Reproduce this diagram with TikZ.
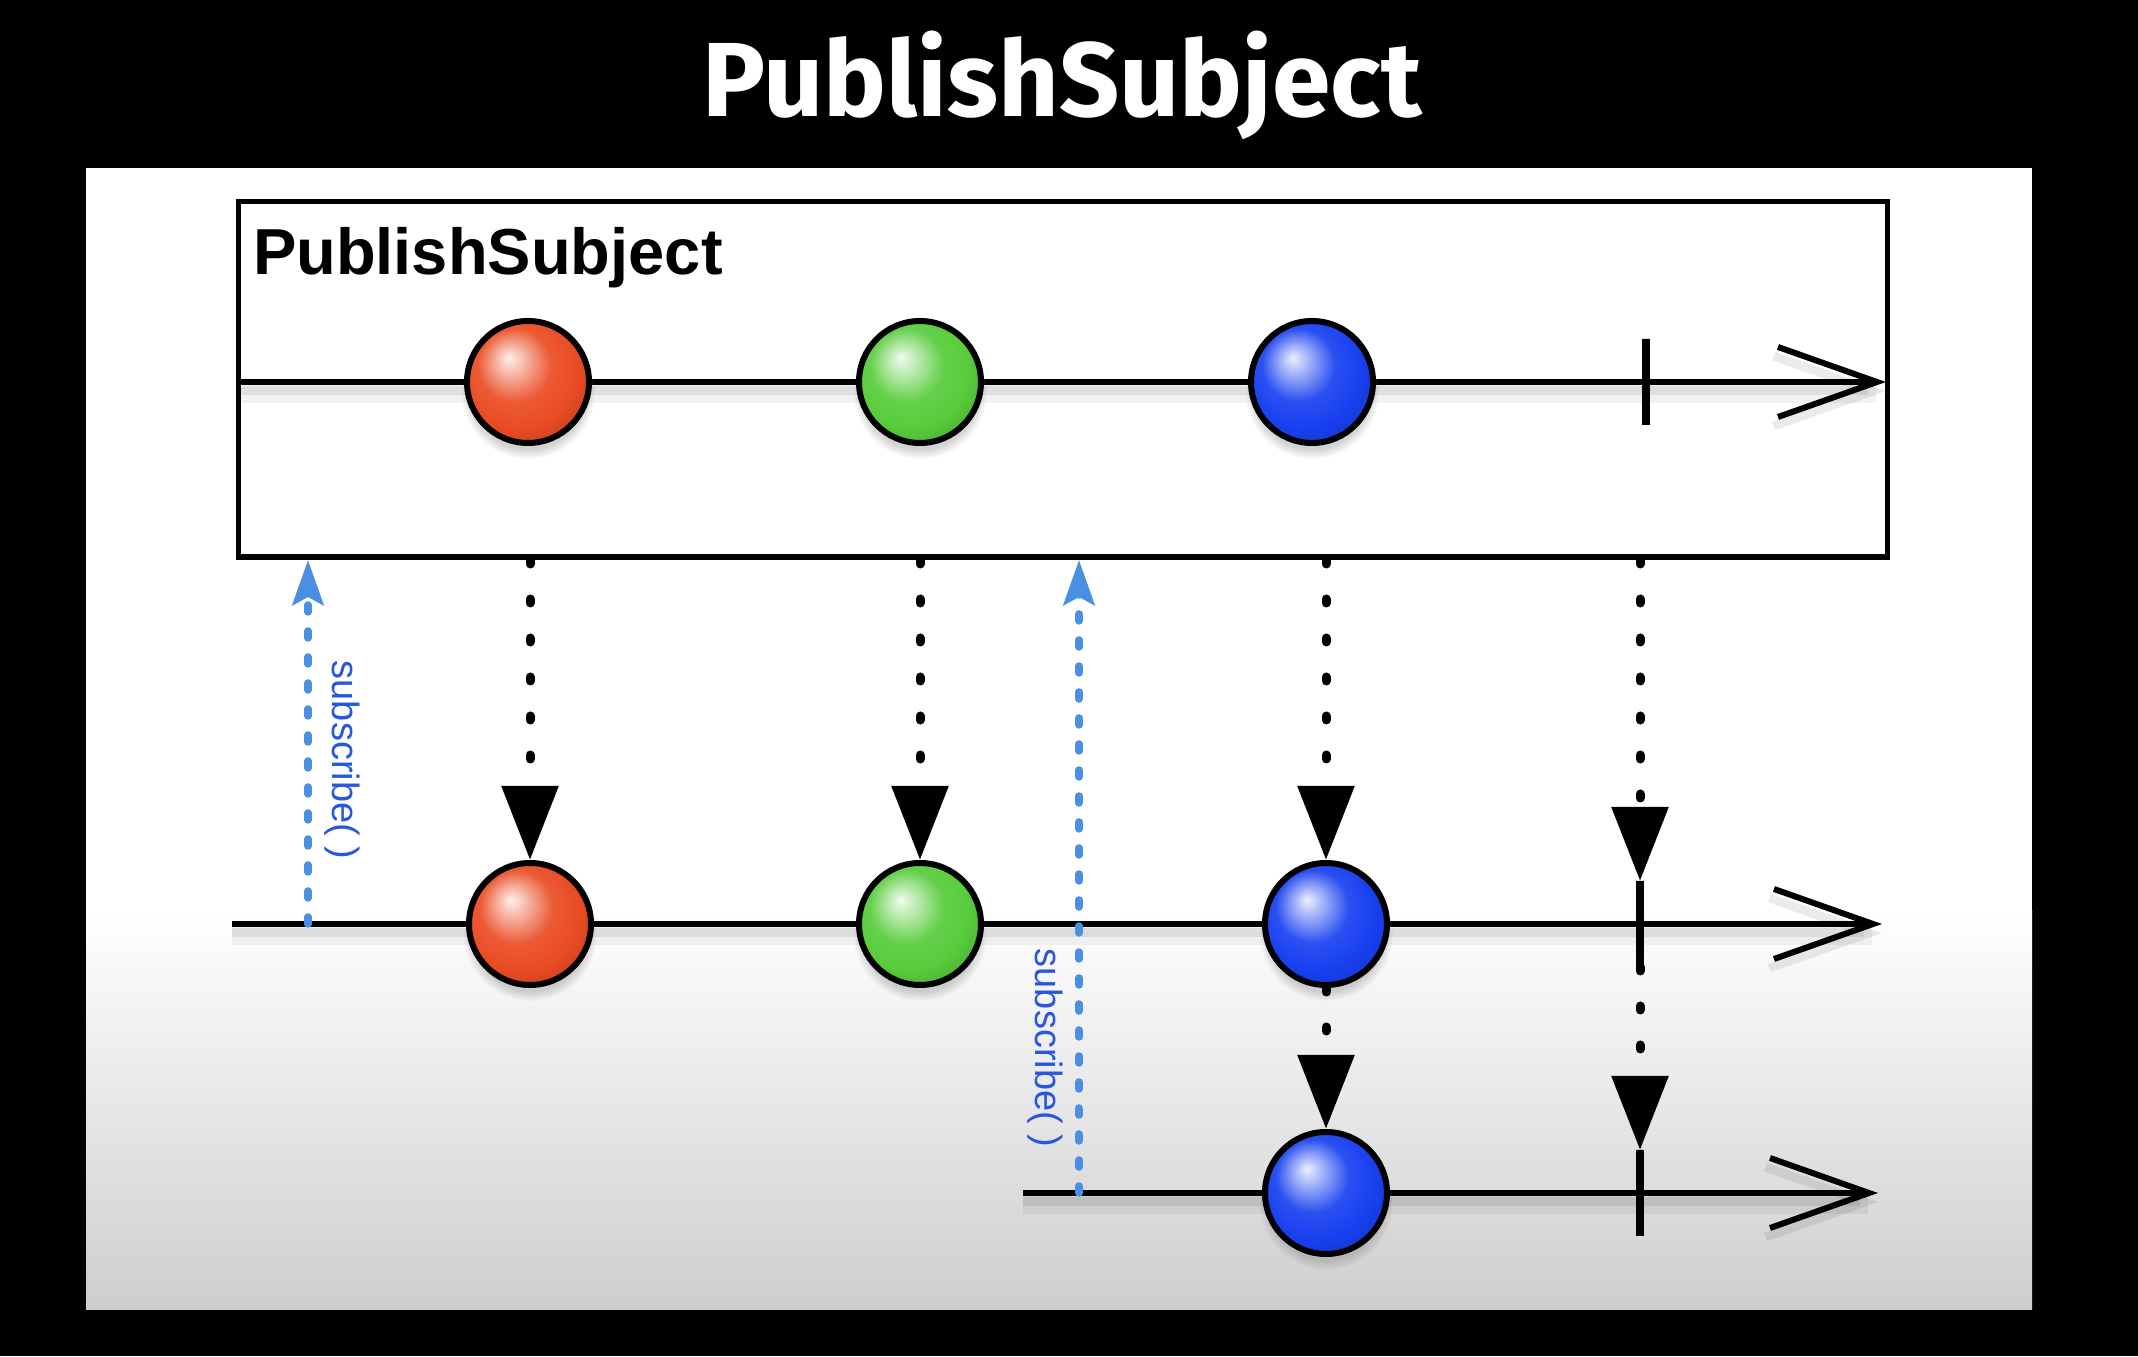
\documentclass[tikz,border=0pt]{standalone}
\usepackage{fontspec}
\setmainfont{Liberation Sans}
\newfontfamily\titlefont{Fira Sans}
\usetikzlibrary{arrows.meta,shadows,fadings}
\definecolor{ink}{RGB}{0,0,0}
\definecolor{subblue}{RGB}{74,144,226}
\definecolor{labelblue}{RGB}{40,85,225}
\definecolor{redball}{RGB}{234,76,36}
\definecolor{greenball}{RGB}{88,204,60}
\definecolor{blueball}{RGB}{24,64,240}
\definecolor{panelgrey}{RGB}{206,206,206}
\colorlet{marblecol}{redball}
\pgfdeclareradialshading[marblecol]{marble}{\pgfqpoint{-8bp}{10bp}}{%
  color(0bp)=(marblecol!8!white); color(3bp)=(marblecol!25!white);
  color(15bp)=(marblecol!92!white); color(24bp)=(marblecol);
  color(32bp)=(marblecol!85!black); color(38bp)=(marblecol!72!black);
  color(50bp)=(marblecol!60!black)}

\begin{document}
\begin{tikzpicture}[line width=0.06cm,
  timeline/.style={ink, line width=0.06cm, -{Straight Barb[length=0.99cm, width=0.70cm]}},
  lineshadow/.style={black, opacity=#1, transform canvas={yshift=-0.09cm}},
  marble/.style={circle, draw=ink, line width=0.06cm, minimum size=1.22cm, inner sep=0pt,
    /utils/exec={\colorlet{marblecol}{#1}}, shade, shading=marble,
    circular drop shadow={shadow xshift=0cm, shadow yshift=-0.09cm, opacity=0.35}},
  tickmark/.style={draw=ink, line width=0.08cm, minimum width=0pt, minimum height=0.86cm, inner sep=0pt, outer sep=0pt},
  emit/.style={ink, line width=0.09cm, line cap=round, dash pattern=on 0.04cm off 0.35cm,
    -{Triangle[length=0.74cm, width=0.55cm]}},
  subscribe/.style={subblue, line width=0.075cm, line cap=round, dash pattern=on 0.07cm off 0.19cm,
    -{Stealth[length=0.45cm, width=0.31cm, inset=0.08cm]}},
  sublabel/.style={labelblue, rotate=-90, font=\fontsize{10.8}{12}\selectfont, inner sep=0pt},
  subjbox/.style={draw=ink, line width=0.055cm, minimum width=16.49cm, minimum height=3.555cm, inner sep=0pt}]
  % backdrop
  \fill[black] (0,0) rectangle (21.38,13.56);
  \fill[white] (0.86,0.47) rectangle (20.32,11.88);
  \shade[top color=white, bottom color=panelgrey] (0.86,0.47) rectangle (20.32,4.45);
  \node[white, font=\titlefont\bfseries\fontsize{30}{34}\selectfont, anchor=base] (title) at (10.62,12.39) {PublishSubject};

  % the subject
  \node[subjbox] (subj) at (10.63,9.765) {};
  \node[anchor=base west, font=\bfseries\fontsize{18.5}{22}\selectfont, inner sep=0pt] (subjname) at (2.50,10.81) {PublishSubject};

  % timelines
  \coordinate (top0) at (2.39,9.74);  \coordinate (top1) at (18.86,9.74);
  \coordinate (mid0) at (2.32,4.32);  \coordinate (mid1) at (18.82,4.32);
  \coordinate (low0) at (10.23,1.63); \coordinate (low1) at (18.78,1.63);
  \foreach \a/\b in {top0/top1, mid0/mid1, low0/low1}{
    \draw[lineshadow=0.05, line width=0.24cm] (\a) -- ([xshift=-0.1cm]\b);
    \draw[lineshadow=0.08, line width=0.09cm, -{Straight Barb[length=0.99cm, width=0.70cm]}] (\a) -- (\b);
    \draw[timeline] (\a) -- (\b);
  }

  % marbles
  \node[marble=redball]   (red1)   at (5.28,9.74) {};
  \node[marble=greenball] (green1) at (9.20,9.74) {};
  \node[marble=blueball]  (blue1)  at (13.12,9.74) {};
  \node[tickmark] (done1) at (16.46,9.74) {};
  \node[marble=redball]   (red2)   at (5.30,4.32) {};
  \node[marble=greenball] (green2) at (9.20,4.32) {};
  \node[marble=blueball]  (blue2)  at (13.26,4.32) {};
  \node[tickmark] (done2) at (16.40,4.32) {};
  \node[marble=blueball]  (blue3)  at (13.26,1.63) {};
  \node[tickmark] (done3) at (16.40,1.63) {};

  % emissions
  \foreach \n in {red2,green2,blue2,done2}
    \draw[emit] (\n |- subj.south) -- (\n.north);
  \draw[emit] (blue2.south) -- (blue3.north);
  \draw[emit] (done2.south) -- (done3.north);

  % subscriptions
  \coordinate (sub1) at (3.08,4.32);
  \coordinate (sub2) at (10.79,1.63);
  \draw[subscribe] (sub1) -- (sub1 |- subj.south);
  \draw[subscribe] (sub2) -- (sub2 |- subj.south);
  \node[sublabel] (sub1text) at (3.42,5.96) {subscribe( )};
  \node[sublabel] (sub2text) at (10.45,3.08) {subscribe( )};
\end{tikzpicture}
\end{document}
